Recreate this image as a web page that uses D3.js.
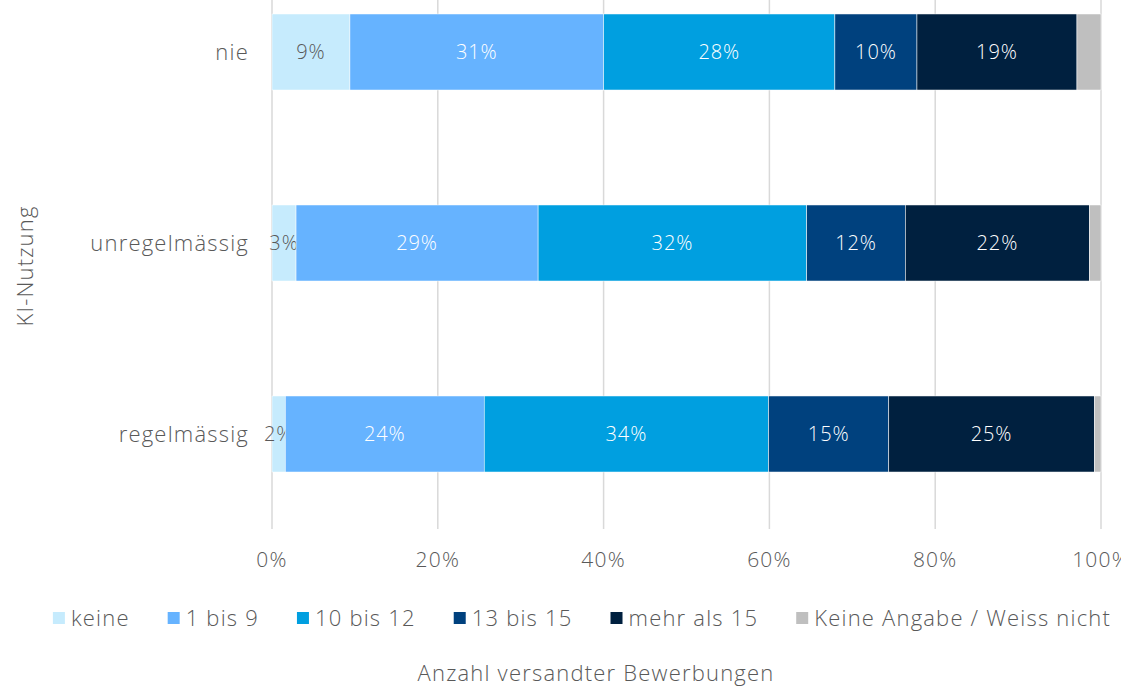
<!DOCTYPE html>
<html>
<head>
<meta charset="utf-8">
<script src="https://cdn.jsdelivr.net/npm/d3@7"></script>
<style>
  html, body { margin: 0; padding: 0; background: #fff; overflow: hidden; }
  svg { display: block; font-family: 'Open Sans', Lato, sans-serif; font-weight: 300; }
</style>
</head>
<body>
<svg id="chart" width="1121" height="686"></svg>
<script>
'use strict'

// KI-Nutzung groups, top to bottom
const categories = ['nie', 'unregelmässig', 'regelmässig']
const seriesNames = ['keine', '1 bis 9', '10 bis 12', '13 bis 15', 'mehr als 15', 'Keine Angabe / Weiss nicht']
const colors = ['#c6ebfd', '#66b3ff', '#009fe0', '#00417e', '#00203f', '#bfbfbf']

// share in percent per group, one array per series
const keine = [9.4, 2.9, 1.6]
const bis9 = [30.6, 29.2, 24.0]
const bis12 = [27.9, 32.4, 34.3]
const bis15 = [9.9, 11.9, 14.5]
const mehrAls15 = [19.3, 22.2, 24.8]
const keineAngabe = [2.9, 1.4, 0.8]
const xTicks = [0, 20, 40, 60, 80, 100]

const seriesValues = [keine, bis9, bis12, bis15, mehrAls15, keineAngabe]
const rows = categories.map((c, i) => {
  const row = { cat: c }
  seriesNames.forEach((s, j) => { row[s] = seriesValues[j][i] })
  return row
})

const textColor = '#595959'
const spacing = '1.2px'
const svg = d3.select('#chart')

const x = d3.scaleLinear().domain([0, 100]).range([272, 1101])
const y = d3.scaleBand()
  .domain(categories)
  .range([-43.5, 529.5])
  .paddingInner(0.602)
  .paddingOuter(0.301)

// vertical gridlines
svg.append('g')
  .selectAll('line')
  .data(xTicks)
  .join('line')
  .attr('x1', d => x(d)).attr('x2', d => x(d))
  .attr('y1', 0).attr('y2', 529)
  .attr('stroke', '#d9d9d9')
  .attr('stroke-width', 1.5)

// x axis tick labels
svg.append('g')
  .selectAll('text')
  .data(xTicks)
  .join('text')
  .attr('x', d => x(d))
  .attr('y', 567)
  .attr('text-anchor', 'middle')
  .attr('font-size', 21)
  .attr('letter-spacing', spacing)
  .attr('fill', textColor)
  .text(d => d + '%')

// category labels
svg.append('g')
  .selectAll('text')
  .data(categories)
  .join('text')
  .attr('x', 249)
  .attr('y', d => y(d) + y.bandwidth() / 2)
  .attr('dy', '0.35em')
  .attr('text-anchor', 'end')
  .attr('font-size', 22)
  .attr('letter-spacing', spacing)
  .attr('fill', textColor)
  .text(d => d)

const stacked = d3.stack().keys(seriesNames)(rows)

const layer = svg.append('g')
  .selectAll('g')
  .data(stacked)
  .join('g')
  .attr('fill', (d, i) => colors[i])

layer.selectAll('rect')
  .data(d => d)
  .join('rect')
  .attr('x', d => x(d[0]))
  .attr('y', d => y(d.data.cat))
  .attr('width', d => x(d[1]) - x(d[0]))
  .attr('height', y.bandwidth())
  .attr('stroke', '#fff')
  .attr('stroke-width', 0.5)

// value labels, not for the last series
layer.filter((d, i) => i < seriesNames.length - 1)
  .selectAll('text')
  .data((d, i) => d.map(v => ({ v, i })))
  .join('text')
  .attr('x', d => (x(d.v[0]) + x(d.v[1])) / 2)
  .attr('y', d => y(d.v.data.cat) + y.bandwidth() / 2)
  .attr('dy', '0.35em')
  .attr('text-anchor', 'middle')
  .attr('font-size', 20)
  .attr('letter-spacing', '0.9px')
  .attr('fill', d => d.i === 0 ? textColor : '#fff')
  .text(d => Math.round(d.v[1] - d.v[0]) + '%')

// legend
const legend = svg.append('g').attr('font-size', 22).attr('letter-spacing', spacing)
const items = legend.selectAll('g')
  .data(seriesNames)
  .join('g')
items.append('rect')
  .attr('width', 12).attr('height', 12)
  .attr('y', 612)
  .attr('fill', (d, i) => colors[i])
items.append('text')
  .attr('x', 18)
  .attr('y', 626)
  .attr('fill', textColor)
  .text(d => d)

let offset = 0
const widths = []
items.each(function () { widths.push(18 + this.querySelector('text').getComputedTextLength()) })
const gap = 38
const total = d3.sum(widths) + gap * (widths.length - 1)
const start = 582 - total / 2
items.attr('transform', (d, i) => {
  const t = `translate(${start + offset},0)`
  offset += widths[i] + gap
  return t
})

// axis titles
svg.append('text')
  .attr('x', 596)
  .attr('y', 681)
  .attr('text-anchor', 'middle')
  .attr('font-size', 22)
  .attr('letter-spacing', spacing)
  .attr('fill', textColor)
  .text('Anzahl versandter Bewerbungen')

svg.append('text')
  .attr('transform', 'translate(33,266) rotate(-90)')
  .attr('text-anchor', 'middle')
  .attr('font-size', 22)
  .attr('letter-spacing', spacing)
  .attr('fill', textColor)
  .text('KI-Nutzung')
</script>
</body>
</html>
